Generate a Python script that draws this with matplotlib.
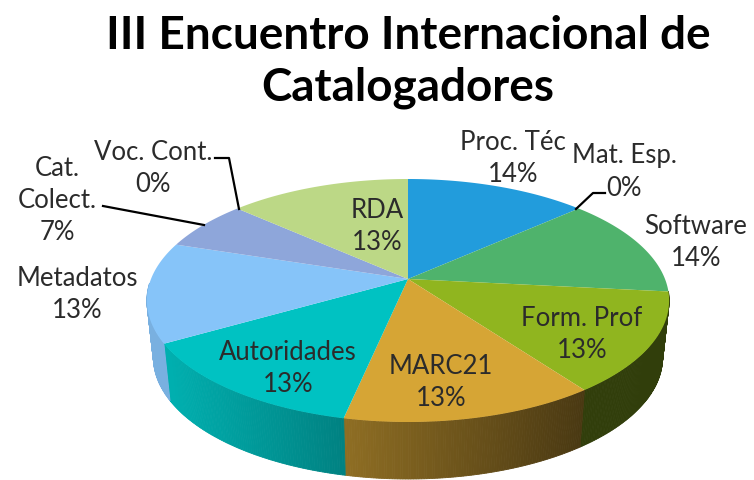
import matplotlib
matplotlib.use('Agg')
import matplotlib.pyplot as plt
import matplotlib.colors as mcolors
import numpy as np

title = 'III Encuentro Internacional de\nCatalogadores'
labels = ['Proc. Téc', 'Mat. Esp.', 'Software', 'Form. Prof', 'MARC21',
          'Autoridades', 'Metadatos', 'Cat.\nColect.', 'Voc. Cont.', 'RDA']
# percentages printed on the chart
printed = [14, 0, 14, 13, 13, 13, 13, 7, 0, 13]
# slice sizes measured on the picture (they differ a bit from the printed ones)
sizes = [13.33, 0, 13.33, 13.33, 13.33, 13.33, 13.33, 6.69, 0, 13.33]
colors = ['#229cdc', '#229cdc', '#4fb36c', '#90b51f', '#d6a535',
          '#00c2c2', '#86c4f9', '#8ea6da', '#8ea6da', '#bcd886']

plt.rcParams['font.family'] = ['Lato', 'DejaVu Sans']

CX, CY = 408, 279
K = 0.177
A, B = 117.7, 257
DEPTH = 57
BOTTOM_SCALE = 0.975


def rim(deg):
    # deg clockwise from top, circle seen in perspective
    a = np.radians(deg)
    w = 1 + K * np.cos(a)
    return CX + B * np.sin(a) / w, CY - A * np.cos(a) / w


fig = plt.figure(figsize=(7.54, 4.8), dpi=100)
ax = fig.add_axes([0, 0, 1, 1])
ax.set_xlim(0, 754)
ax.set_ylim(480, 0)
ax.axis('off')

edges = np.cumsum([0] + sizes) * 3.6

# side of the pie, gets darker to the right
for i, v in enumerate(sizes):
    if v == 0:
        continue
    t = np.arange(edges[i], edges[i + 1], 0.5)
    t = np.append(t, edges[i + 1])
    base = np.array(mcolors.to_rgb(colors[i]))
    for a, b in zip(t[:-1], t[1:]):
        mid = (a + b) / 2
        if mid < 96 or mid > 268:
            continue
        xa, ya = rim(a)
        xb, yb = rim(b)
        xa2 = CX + BOTTOM_SCALE * (xa - CX)
        xb2 = CX + BOTTOM_SCALE * (xb - CX)
        shade = np.clip(0.9 - 0.55 * ((xa + xb) / 2 - 170) / 410, 0.34, 0.9)
        c = base * shade
        ax.fill([xa, xb, xb2, xa2], [ya, yb, yb + DEPTH, ya + DEPTH],
                facecolor=c, edgecolor=c, lw=0.6, zorder=1)

# top face
for i, v in enumerate(sizes):
    if v == 0:
        continue
    t = np.linspace(edges[i], edges[i + 1], 80)
    x, y = rim(t)
    ax.fill(np.r_[CX, x], np.r_[CY, y], color=colors[i], lw=0, zorder=2)

ax.text(408, 62, title, ha='center', va='center', fontsize=33, fontweight='bold',
        linespacing=1.27, color='black')

label_xy = [(513, 158), (624, 172), (696, 243), (582, 335), (441, 382),
            (288, 369), (77, 294), (57, 200), (153, 168), (377, 226)]
for i in range(len(labels)):
    ax.text(label_xy[i][0], label_xy[i][1], '%s\n%d%%' % (labels[i], printed[i]),
            ha='center', va='center', fontsize=18.5, linespacing=1.35,
            color='#2b2b2b', zorder=4)

# leader lines
ax.plot([605, 593, 576], [193, 193, 209], color='black', lw=1.6, zorder=3)
ax.plot([215, 229, 239], [158, 158, 209], color='black', lw=1.6, zorder=3)
ax.plot([103, 204], [206, 225], color='black', lw=1.6, zorder=3)

plt.savefig('out.png', dpi=100)
